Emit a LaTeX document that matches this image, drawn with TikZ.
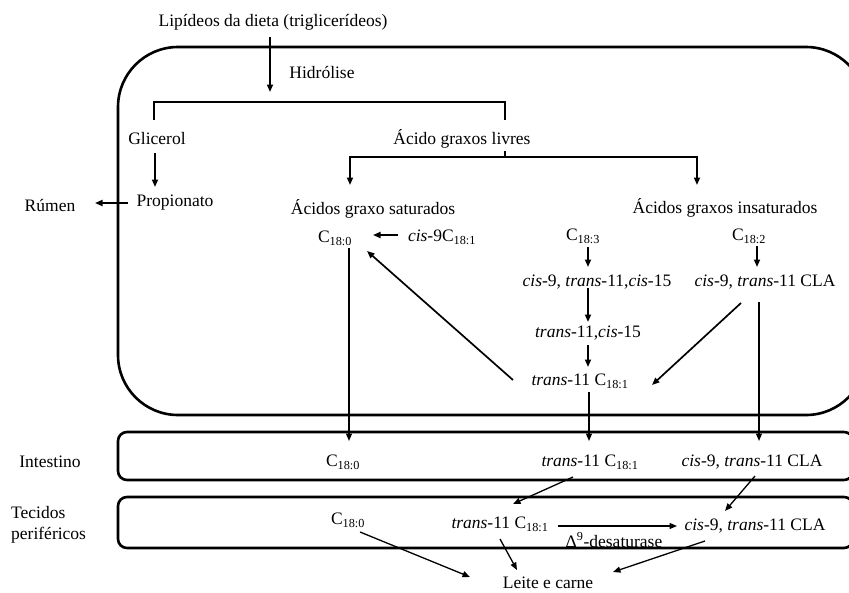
\documentclass[tikz,border=0pt]{standalone}
\usepackage{fontspec}
\setmainfont{Liberation Serif}
\usetikzlibrary{arrows.meta,calc}
\newcommand{\Cs}[1]{C\textsubscript{#1}}
\begin{document}
\begin{tikzpicture}[x=1pt,y=-1pt,
  every node/.style={font=\fontsize{17.5}{21}\selectfont, inner sep=1pt},
  frame/.style={draw, line width=2.6pt, rounded corners=60pt},
  band/.style={draw, line width=2.6pt, rounded corners=9pt},
  ln/.style={line width=1.7pt},
  arr/.style={line width=1.7pt, -{Triangle[length=7.5pt,width=6pt]}},
  farr/.style={line width=1.3pt, -{Triangle[length=7.5pt,width=6pt]}}
]
\useasboundingbox (0,0) rectangle (849,592);
\clip (0,0) rectangle (849,592);

% compartments
\draw[frame] (118,47) rectangle (866,415);
\draw[band] (118,432) rectangle (853,480);
\draw[band] (118,497) rectangle (853,548);

% rumen
\node (lip)   at (273,22)  {Lipídeos da dieta (triglicerídeos)};
\node (hyd)   at (322,72)  {Hidrólise};
\node (glic)  at (157,139) {Glicerol};
\node (agl)   at (462,139) {Ácido graxos livres};
\node (prop)  at (175,203) {Propionato};
\node (rum)   at (50,205)  {Rúmen};
\node (ags)   at (373,209) {Ácidos graxo saturados};
\node (agi)   at (725,208) {Ácidos graxos insaturados};
\node (c180r) at (335,238) {\Cs{18:0}};
\node (cis9)  at (442,237) {\textit{cis}-9\Cs{18:1}};
\node (c183)  at (583,236) {\Cs{18:3}};
\node (c182)  at (749,236) {\Cs{18:2}};
\node (ct)    at (597,282) {\textit{cis}-9, \textit{trans}-11,\textit{cis}-15};
\node (clar)  at (765,282) {\textit{cis}-9, \textit{trans}-11 CLA};
\node (tc)    at (588,333) {\textit{trans}-11,\textit{cis}-15};
\node (t11r)  at (580,381) {\textit{trans}-11 \Cs{18:1}};

% intestine
\node (intl)  at (50,462)  {Intestino};
\node (c180i) at (343,462) {\Cs{18:0}};
\node (t11i)  at (590,462) {\textit{trans}-11 \Cs{18:1}};
\node (clai)  at (752,462) {\textit{cis}-9, \textit{trans}-11 CLA};

% peripheral tissues
\node[align=left, anchor=west] (tec) at (10,525) {Tecidos\\periféricos};
\node (c180t) at (348,520) {\Cs{18:0}};
\node (t11t)  at (500,524) {\textit{trans}-11 \Cs{18:1}};
\node (clat)  at (755,526) {\textit{cis}-9, \textit{trans}-11 CLA};
\node (des)   at (614,540) {Δ\textsuperscript{9}-desaturase};
\node (leite) at (548,583) {Leite e carne};

% hydrolysis
\draw[arr] ($(lip)+(-3,15)$) -- ($(lip)+(-3,70)$);
\draw[ln] ($(glic)+(-3,-19)$) |- ($(agl)+(43,-37)$) -- ($(agl)+(43,-19)$);
\draw[arr] ($(glic)+(-2,14)$) -- ($(prop)+(-20,-16)$);
\draw[arr] ($(prop)+(-47,0)$) -- ($(rum)+(45,-2)$);

% free fatty acids split
\draw[ln] ($(agl)+(43,12)$) -- ($(agl)+(43,18)$);
\draw[arr] ($(agl)+(43,18)$) -| ($(ags)+(-23,-24)$);
\draw[arr] ($(agl)+(43,18)$) -| ($(agi)+(-28,-23)$);

% biohydrogenation
\draw[arr] ($(cis9)+(-44,-2)$) -- ($(c180r)+(38,-3)$);
\draw[arr] ($(t11r)+(-67,-1)$) -- ($(c180r)+(32,13)$);
\draw[arr] ($(c183)+(5,11)$) -- ($(ct)+(-9,-15)$);
\draw[arr] ($(ct)+(-9,6)$) -- ($(tc)+(0,-11)$);
\draw[arr] ($(tc)+(0,12)$) -- ($(t11r)+(8,-14)$);
\draw[arr] ($(c182)+(8,10)$) -- ($(clar)+(-8,-15)$);
\draw[arr] ($(clar)+(-24,21)$) -- ($(t11r)+(72,4)$);

% passage to the intestine
\draw[farr] ($(c180r)+(14,10)$) -- ($(c180i)+(6,-21)$);
\draw[farr] ($(t11r)+(9,11)$) -- ($(t11i)+(-1,-21)$);
\draw[farr] ($(clar)+(-6,20)$) -- ($(clai)+(7,-21)$);

% absorption and tissue metabolism
\draw[farr] ($(t11i)+(-17,15)$) -- ($(t11t)+(13,-20)$);
\draw[farr] ($(clai)+(3,14)$) -- ($(clat)+(-30,-15)$);
\draw[farr] ($(t11t)+(58,2)$) -- ($(clat)+(-78,0)$);
\draw[farr] ($(c180t)+(12,12)$) -- ($(leite)+(-78,-6)$);
\draw[farr] ($(t11t)+(0,15)$) -- ($(leite)+(-31,-13)$);
\draw[farr] ($(clat)+(-50,15)$) -- ($(leite)+(65,-11)$);
\end{tikzpicture}
\end{document}
